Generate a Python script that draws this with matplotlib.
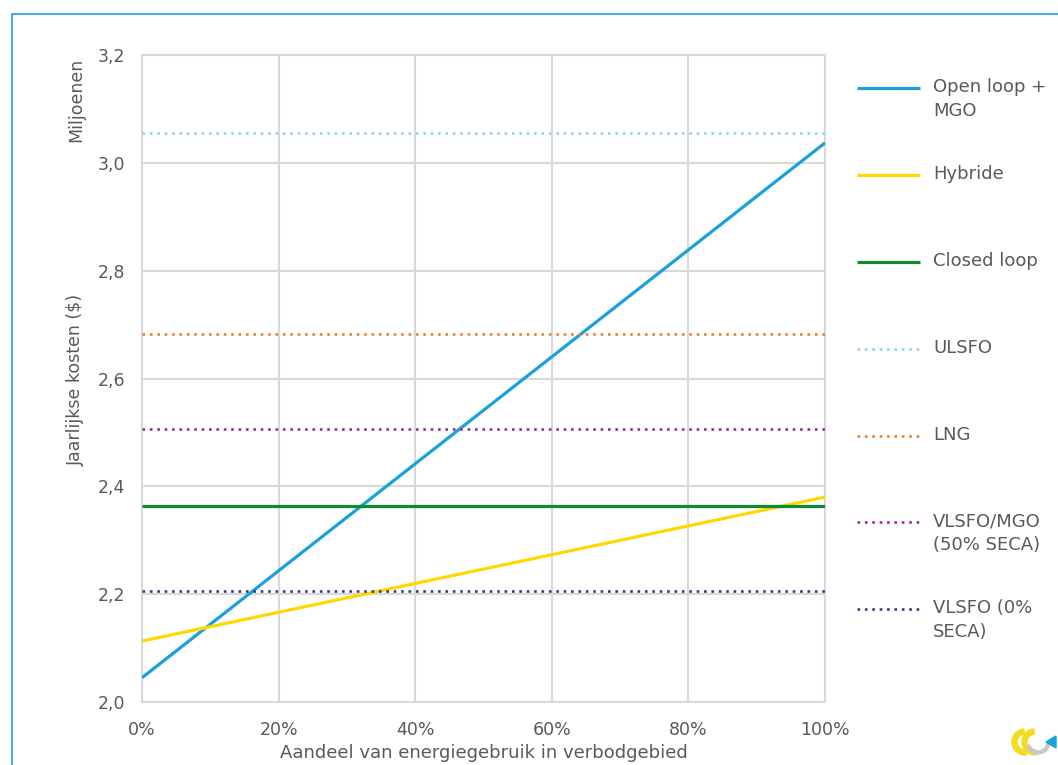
import numpy as np
import matplotlib.pyplot as plt
from matplotlib.lines import Line2D
from matplotlib.patches import Rectangle, Wedge, Polygon
from matplotlib.ticker import FuncFormatter

# aandeel energiegebruik in verbodgebied (0 .. 1)
aandeel = [0.0, 1.0]

# jaarlijkse kosten in miljoenen dollars
open_loop_mgo = [2.045, 3.037]
hybride = [2.113, 2.380]
closed_loop = [2.363, 2.363]
ulsfo = [3.055, 3.055]
lng = [2.683, 2.683]
vlsfo_mgo_50 = [2.507, 2.507]
vlsfo_0 = [2.205, 2.205]

series = [
    ("Open loop +\nMGO", open_loop_mgo, "#1ba1d9", "-"),
    ("Hybride", hybride, "#ffd800", "-"),
    ("Closed loop", closed_loop, "#0d8a32", "-"),
    ("ULSFO", ulsfo, "#8fd3f7", ":"),
    ("LNG", lng, "#ef7d2d", ":"),
    ("VLSFO/MGO\n(50% SECA)", vlsfo_mgo_50, "#9a2d9b", ":"),
    ("VLSFO (0%\nSECA)", vlsfo_0, "#2f3d91", ":"),
]

x_ticks = [0, 0.2, 0.4, 0.6, 0.8, 1.0]
y_ticks = [2.0, 2.2, 2.4, 2.6, 2.8, 3.0, 3.2]

txt = "#595959"
grid = "#d9d9d9"
W, H = 1058, 765

plt.rcParams["font.family"] = ["DejaVu Sans"]
fig = plt.figure(figsize=(W / 100, H / 100), dpi=100)
ax = fig.add_axes([142 / W, 1 - 702 / H, (825 - 142) / W, (702 - 55) / H])

dotted = (0, (1, 1.8))
for name, vals, col, ls in series:
    if ls == "-":
        ax.plot(aandeel, vals, color=col, lw=2.3, solid_capstyle="butt", zorder=3)
    else:
        ax.plot(aandeel, vals, color=col, lw=1.9, linestyle=dotted, zorder=3)

ax.set_xlim(0, 1)
ax.set_ylim(2.0, 3.2)
ax.set_xticks(x_ticks)
ax.set_yticks(y_ticks)
ax.xaxis.set_major_formatter(FuncFormatter(lambda v, p: f"{v * 100:.0f}%"))
ax.yaxis.set_major_formatter(FuncFormatter(lambda v, p: f"{v:.1f}".replace(".", ",")))
ax.tick_params(length=0, colors=txt, labelsize=12.5)
ax.tick_params(axis="x", pad=14)
ax.tick_params(axis="y", pad=12)
ax.grid(True, color=grid, lw=1.5, zorder=0)
for s in ax.spines.values():
    s.set_color(grid)
    s.set_linewidth(1.5)

ax.set_xlabel("Aandeel van energiegebruik in verbodgebied", color=txt, fontsize=13, labelpad=3)
fig.text(76 / W, 1 - 380 / H, "Jaarlijkse kosten ($)", rotation=90, color=txt,
         fontsize=12.5, ha="center", va="center")
fig.text(76 / W, 1 - 100 / H, "Miljoenen", rotation=90, color=txt,
         fontsize=12.5, ha="center", va="center")

# legend on the right
leg_y = [88, 175, 262, 349, 436, 522, 609]
for (name, vals, col, ls), yy in zip(series, leg_y):
    fy = 1 - yy / H
    if ls == "-":
        fig.add_artist(Line2D([857 / W, 920 / W], [fy, fy], color=col, lw=2.3,
                              solid_capstyle="butt"))
    else:
        fig.add_artist(Line2D([857 / W, 920 / W], [fy, fy], color=col, lw=1.9,
                              linestyle=dotted))
    fig.text(933 / W, fy + 10 / H, name, color=txt, fontsize=13, ha="left", va="top",
             linespacing=1.45)

# blue frame
fig.add_artist(Rectangle((12 / W, -0.1), 1.2, 1 - 14 / H + 0.1, fill=False,
                         edgecolor="#1f9fd9", lw=1.2, transform=fig.transFigure))

# small logo bottom right
lax = fig.add_axes([1008 / W, 1 - 762 / H, 50 / W, 42 / H])
lax.set_xlim(0, 50)
lax.set_ylim(0, 42)
lax.set_aspect("equal")
lax.axis("off")
lax.add_patch(Wedge((17, 20), 13, 95, 275, width=5, color="#f2dc1f"))
lax.add_patch(Wedge((27, 20), 13, 95, 275, width=5, color="#f2dc1f"))
lax.add_patch(Wedge((30, 20), 12, 200, 360, width=3, color="#c8c8c8"))
lax.add_patch(Polygon([[38, 20], [48, 14], [48, 26]], color="#1ba1d9"))

plt.savefig("out.png", dpi=100)
